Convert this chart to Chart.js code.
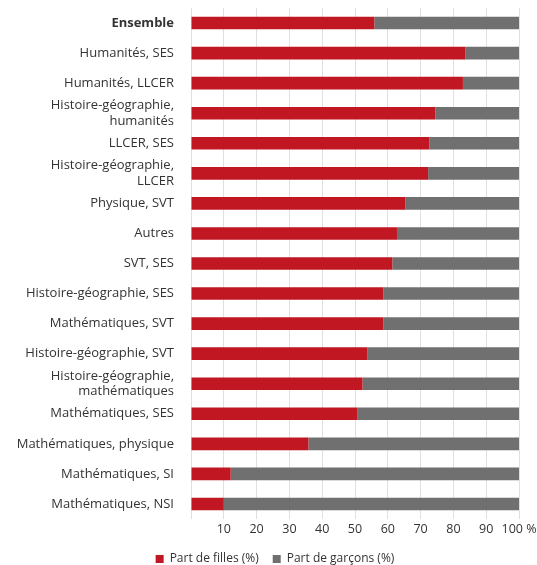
<!DOCTYPE html>
<html>
<head>
<meta charset="utf-8">
<script src="https://cdn.jsdelivr.net/npm/chart.js@4/dist/chart.umd.min.js"></script>
<style>
  html, body { margin: 0; padding: 0; background: #fff; }
  #chartHolder { width: 537px; height: 565px; }
</style>
</head>
<body>
<div id="chartHolder"><canvas id="chart"></canvas></div>
<script>
let categories = [
  "Ensemble",
  "Humanités, SES",
  "Humanités, LLCER",
  ["Histoire-géographie,", "humanités"],
  "LLCER, SES",
  ["Histoire-géographie,", "LLCER"],
  "Physique, SVT",
  "Autres",
  "SVT, SES",
  "Histoire-géographie, SES",
  "Mathématiques, SVT",
  "Histoire-géographie, SVT",
  ["Histoire-géographie,", "mathématiques"],
  "Mathématiques, SES",
  "Mathématiques, physique",
  "Mathématiques, SI",
  "Mathématiques, NSI"
];
let partFilles = [55.9, 83.6, 82.9, 74.5, 72.7, 72.3, 65.3, 62.8, 61.4, 58.7, 58.7, 53.7, 52.3, 50.8, 35.8, 12.1, 10.0];
let partGarcons = [44.1, 16.4, 17.1, 25.5, 27.3, 27.7, 34.7, 37.2, 38.6, 41.3, 41.3, 46.3, 47.7, 49.2, 64.2, 87.9, 90.0];
let xTicks = [0, 10, 20, 30, 40, 50, 60, 70, 80, 90, 100];

let fontFamily = "'Open Sans', sans-serif";
Chart.defaults.font.family = fontFamily;
Chart.defaults.color = "#333";

new Chart(document.getElementById("chart"), {
  type: "bar",
  data: {
    labels: categories,
    datasets: [{
      label: "Part de filles (%)",
      data: partFilles,
      backgroundColor: "#c01722",
      barPercentage: 1,
      categoryPercentage: 0.42
    }, {
      label: "Part de garçons (%)",
      data: partGarcons,
      backgroundColor: "#707070",
      barPercentage: 1,
      categoryPercentage: 0.42
    }]
  },
  options: {
    indexAxis: "y",
    responsive: true,
    maintainAspectRatio: false,
    animation: false,
    // left padding only shifts the centred legend; y axis width makes up for it
    layout: { padding: { top: 8, right: 0, left: 13, bottom: -10 } },
    scales: {
      x: {
        stacked: true,
        min: 0,
        max: 100,
        afterBuildTicks: (scale) => { scale.ticks = xTicks.map((value) => ({ value: value })); },
        afterFit: (scale) => {
          scale.height = 20;
          scale.paddingLeft = 0;
          scale.paddingRight = 18;
        },
        border: { display: false },
        grid: { color: "#e0e0e0", drawTicks: false },
        ticks: {
          padding: 3,
          autoSkip: false,
          maxRotation: 0,
          minRotation: 0,
          font: { size: 12.5 },
          color: "#333",
          callback: (value) => value === 0 ? "" : (value === 100 ? "100 %" : value)
        }
      },
      y: {
        stacked: true,
        afterFit: (scale) => {
          scale.width = 178;
          scale.paddingTop = 0;
          scale.paddingBottom = 0;
        },
        border: { display: false },
        grid: { display: false, drawTicks: false },
        ticks: {
          padding: 17,
          autoSkip: false,
          color: "#333",
          font: (ctx) => ctx.index === 0 ? { size: 13, weight: "bold" } : { size: 13 }
        }
      }
    },
    plugins: {
      tooltip: { enabled: false },
      legend: {
        position: "bottom",
        labels: {
          boxWidth: 8,
          boxHeight: 8,
          padding: 14,
          font: { size: 12 },
          color: "#333"
        }
      }
    }
  }
});
</script>
</body>
</html>
